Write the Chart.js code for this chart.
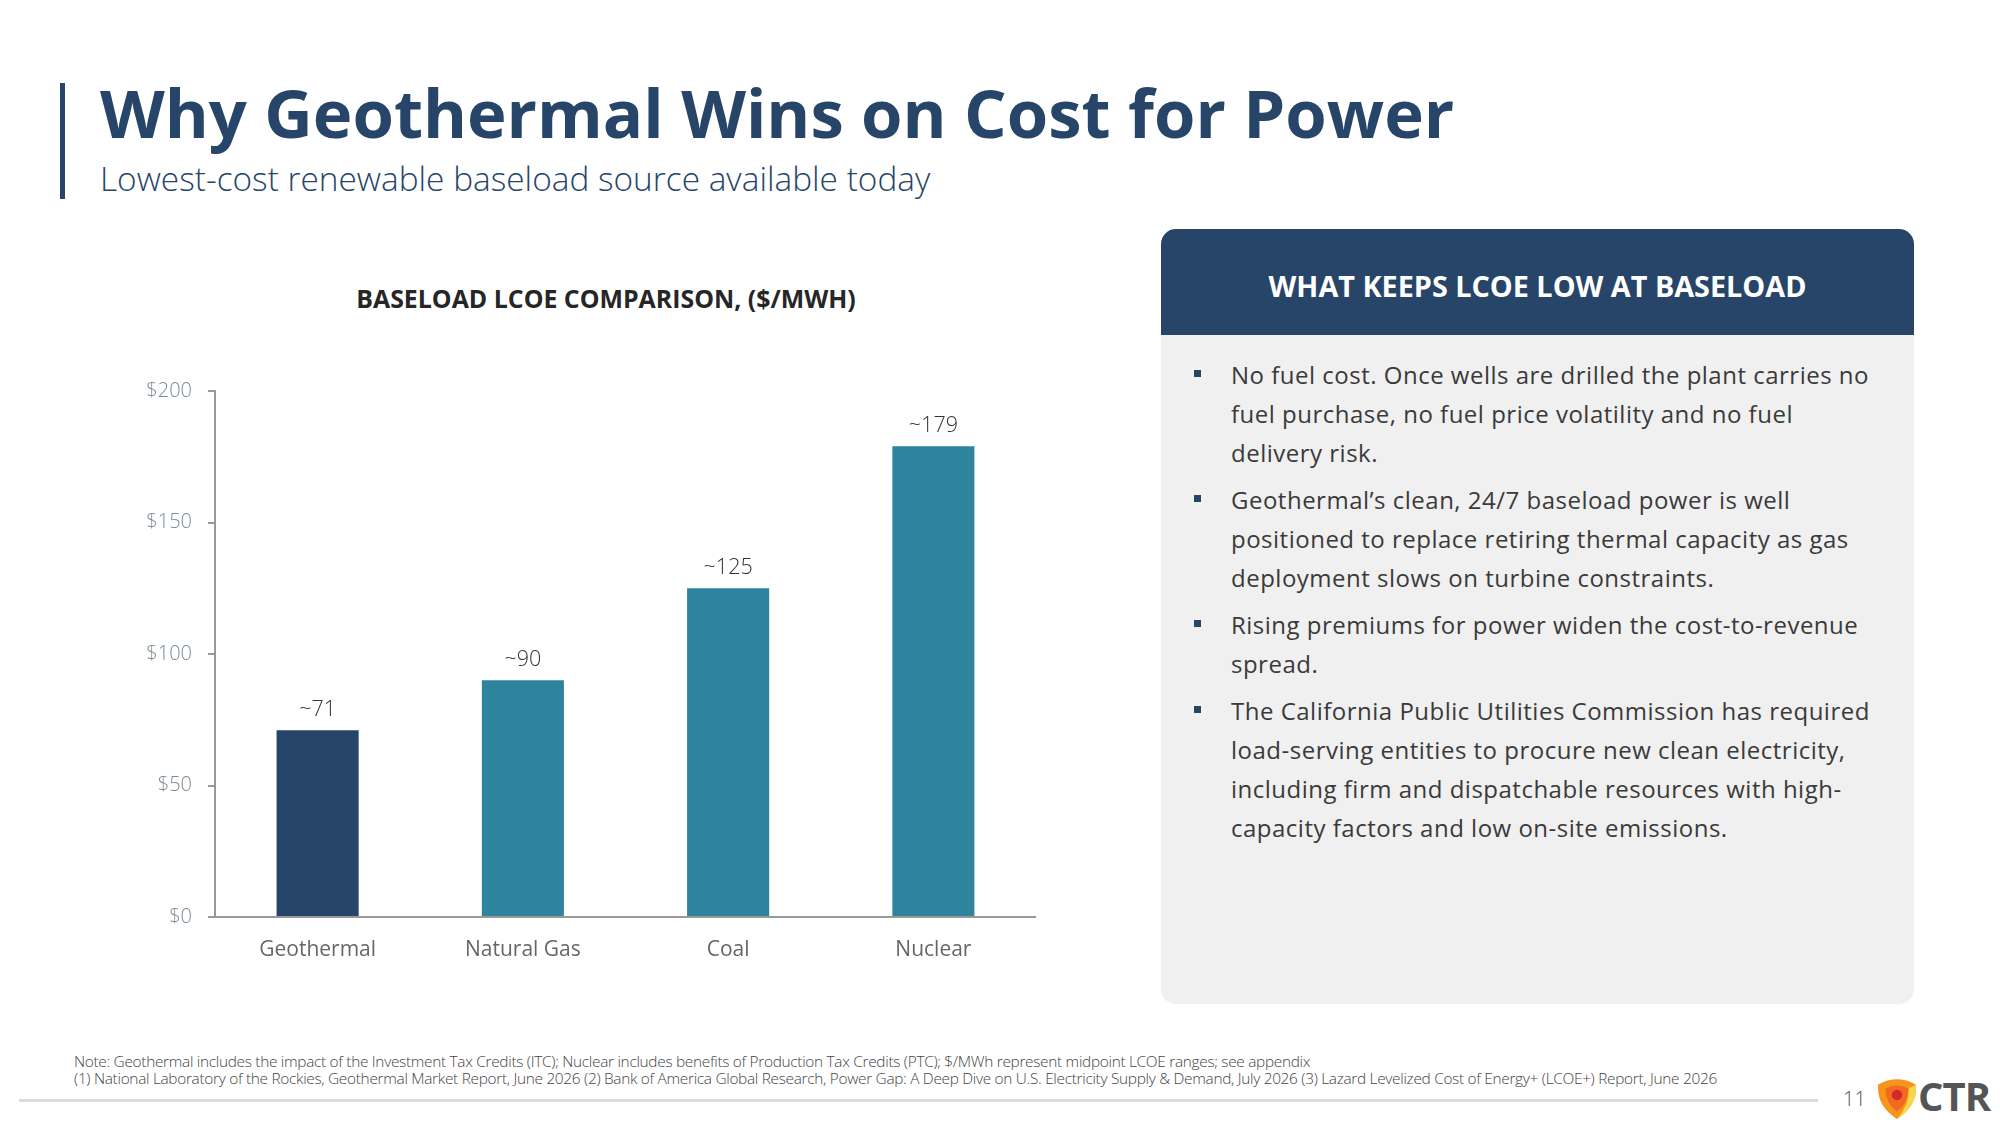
<!DOCTYPE html>
<html>
<head>
<meta charset="utf-8">
<script src="https://cdn.jsdelivr.net/npm/chart.js@4.4.1/dist/chart.umd.min.js"></script>
<style>
  html, body { margin: 0; padding: 0; background: #fff; }
  body { width: 2000px; height: 1123px; position: relative; overflow: hidden; font-family: "Open Sans", sans-serif; }
  .abs { position: absolute; white-space: nowrap; }
  #accent { left: 60px; top: 83px; width: 5px; height: 116px; background: #274569; }
  #title { left: 100px; top: 79px; font-size: 67px; line-height: 1; font-weight: 700; color: #274569; }
  #subtitle { left: 100px; top: 162px; font-size: 33.4px; line-height: 1; font-weight: 300; color: #274569; }
  #chartTitle { left: 306px; width: 600px; top: 286px; text-align: center; font-size: 24.9px; line-height: 1; font-weight: 700; color: #262626; }
  #chartBox { left: 130px; top: 360px; width: 906px; height: 617px; }
  #panel { left: 1161px; top: 229px; width: 753px; height: 775px; background: #f0f0f0; border-radius: 15px; overflow: hidden; }
  #panelHead { position: absolute; left: 0; top: 0; width: 100%; height: 106px; background: #274569; }
  #panelTitle { position: absolute; left: 0; width: 100%; top: 43px; text-align: center; font-size: 28.8px; line-height: 1; font-weight: 700; color: #fff; }
  #bullets { position: absolute; left: 70px; top: 126px; }
  .item { position: relative; font-size: 24px; line-height: 39px; color: #3a3a3a; margin-bottom: 8px; letter-spacing: 0.5px; white-space: nowrap; }
  .item::before { content: ""; position: absolute; left: -37px; top: 15px; width: 7px; height: 7px; background: #274569; }
  #note { left: 74px; top: 1053px; font-size: 15.4px; line-height: 17px; font-weight: 300; color: #444; letter-spacing: -0.3px; }
  #rule { left: 19px; top: 1099px; width: 1799px; height: 3px; background: #dcdcdc; }
  #pageNo { left: 1843px; top: 1089px; font-size: 20px; line-height: 1; font-weight: 300; color: #555; }
  #logo { left: 1874px; top: 1076px; width: 46px; height: 44px; }
  #ctr { left: 1918px; top: 1076px; font-size: 40px; line-height: 1; font-weight: 700; color: #555; letter-spacing: -1px; }
</style>
</head>
<body>
<div class="abs" id="accent"></div>
<div class="abs" id="title">Why Geothermal Wins on Cost for Power</div>
<div class="abs" id="subtitle">Lowest-cost renewable baseload source available today</div>

<div class="abs" id="chartTitle">BASELOAD LCOE COMPARISON, ($/MWH)</div>
<div class="abs" id="chartBox"><canvas id="chart"></canvas></div>

<div class="abs" id="panel">
  <div id="panelHead"><div id="panelTitle">WHAT KEEPS LCOE LOW AT BASELOAD</div></div>
  <div id="bullets">
    <div class="item">No fuel cost. Once wells are drilled the plant carries no<br>fuel purchase, no fuel price volatility and no fuel<br>delivery risk.</div>
    <div class="item">Geothermal’s clean, 24/7 baseload power is well<br>positioned to replace retiring thermal capacity as gas<br>deployment slows on turbine constraints.</div>
    <div class="item">Rising premiums for power widen the cost-to-revenue<br>spread.</div>
    <div class="item">The California Public Utilities Commission has required<br>load-serving entities to procure new clean electricity,<br>including firm and dispatchable resources with high-<br>capacity factors and low on-site emissions.</div>
  </div>
</div>

<div class="abs" id="note">Note: Geothermal includes the impact of the Investment Tax Credits (ITC); Nuclear includes benefits of Production Tax Credits (PTC); $/MWh represent midpoint LCOE ranges; see appendix<br>(1) National Laboratory of the Rockies, Geothermal Market Report, June 2026 (2) Bank of America Global Research, Power Gap: A Deep Dive on U.S. Electricity Supply &amp; Demand, July 2026 (3) Lazard Levelized Cost of Energy+ (LCOE+) Report, June 2026</div>
<div class="abs" id="rule"></div>
<div class="abs" id="pageNo">11</div>
<svg class="abs" id="logo" viewBox="0 0 44 42">
  <path d="M4 8 Q22 -2 40 8 Q42 28 22 41 Q2 28 4 8 Z" fill="#f7941d"/>
  <path d="M40 8 Q42 28 22 41 Q34 28 33 12 Z" fill="#f9d648"/>
  <path d="M11 12 Q22 6 33 12 Q33 26 22 34 Q11 26 11 12 Z" fill="#f26a21"/>
  <circle cx="22" cy="18" r="5" fill="#d7262e"/>
</svg>
<div class="abs" id="ctr">CTR</div>

<script>
// chart data
const categories = ["Geothermal", "Natural Gas", "Coal", "Nuclear"];
const lcoeValues = [71, 90, 125, 179];
const valueLabels = ["~71", "~90", "~125", "~179"];
const yTickValues = [0, 50, 100, 150, 200];

const navy = "#274569";
const teal = "#2e849c";

// draws the "~xx" labels above each bar
const barLabels = {
  id: "barLabels",
  afterDatasetsDraw(chart) {
    const ctx = chart.ctx;
    const meta = chart.getDatasetMeta(0);
    ctx.save();
    ctx.font = "300 21.5px 'Open Sans'";
    ctx.fillStyle = "#333";
    ctx.textAlign = "center";
    ctx.textBaseline = "middle";
    meta.data.forEach((bar, i) => {
      ctx.fillText(valueLabels[i], bar.x, bar.y - 20);
    });
    ctx.restore();
  }
};

new Chart(document.getElementById("chart"), {
  type: "bar",
  data: {
    labels: categories,
    datasets: [{
      data: lcoeValues,
      backgroundColor: categories.map((c, i) => i === 0 ? navy : teal),
      barPercentage: 0.4,
      categoryPercentage: 1.0
    }]
  },
  options: {
    responsive: true,
    maintainAspectRatio: false,
    animation: false,
    layout: { padding: { top: 31, right: 0, left: 0, bottom: 0 } },
    plugins: { legend: { display: false }, tooltip: { enabled: false } },
    scales: {
      x: {
        grid: { display: false, drawTicks: false },
        border: { color: "#999", width: 2 },
        ticks: { color: "#666", font: { family: "'Open Sans'", size: 21 }, padding: 20 },
        afterFit(scale) { scale.height = 60; }
      },
      y: {
        min: 0,
        max: 200,
        afterBuildTicks(scale) { scale.ticks = yTickValues.map(v => ({ value: v })); },
        grid: { drawOnChartArea: false, drawTicks: true, tickLength: 7, color: "#999", lineWidth: 2 },
        border: { color: "#999", width: 2 },
        ticks: {
          color: "#7d8b95",
          font: { family: "'Open Sans'", size: 20, weight: 300 },
          padding: 16,
          callback: v => "$" + v
        },
        afterFit(scale) { scale.width = 85; }
      }
    }
  },
  plugins: [barLabels]
});
</script>
</body>
</html>
